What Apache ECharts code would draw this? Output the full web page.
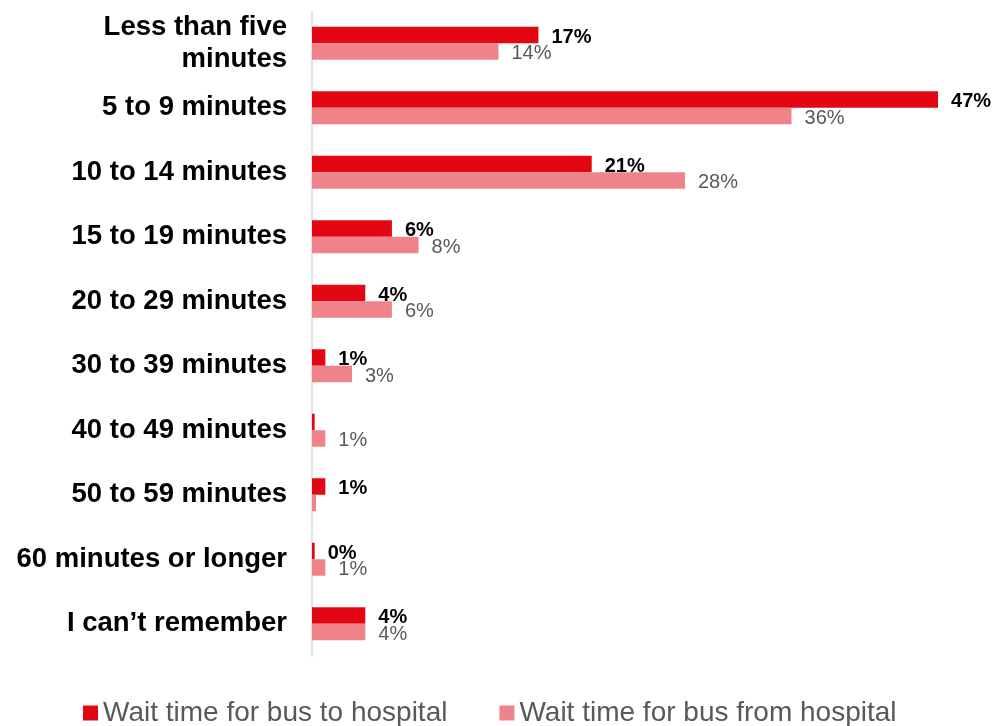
<!DOCTYPE html>
<html>
<head>
<meta charset="utf-8">
<script src="https://cdn.jsdelivr.net/npm/echarts@6/dist/echarts.min.js"></script>
<style>
  html, body { margin: 0; padding: 0; background: #fff; }
  #chart { width: 993px; height: 726px; }
</style>
</head>
<body>
<div id="chart"></div>
<script>
// Wait-time categories, top to bottom
const categories = [
  'Less than five\nminutes',
  '5 to 9 minutes',
  '10 to 14 minutes',
  '15 to 19 minutes',
  '20 to 29 minutes',
  '30 to 39 minutes',
  '40 to 49 minutes',
  '50 to 59 minutes',
  '60 minutes or longer',
  'I can\u2019t remember'
];
const seriesNames = ['Wait time for bus to hospital', 'Wait time for bus from hospital'];
// Share of respondents (%)
const toHospital   = [17, 47, 21, 6, 4, 1, 0.2, 1, 0.2, 4];
const fromHospital = [14, 36, 28, 8, 6, 3, 1, 0.3, 1, 4];
// Bars too small to carry a printed value
const toHidden   = [6];
const fromHidden = [7];

const chart = echarts.init(document.getElementById('chart'));

function withLabels(values, hidden) {
  return values.map((v, i) => hidden.includes(i)
    ? { value: v, label: { show: false } }
    : { value: v });
}

chart.setOption({
  animation: false,
  textStyle: { fontFamily: 'Liberation Sans, Arial, sans-serif' },
  grid: { left: 312, right: 15, top: 11, bottom: 70, containLabel: false },
  xAxis: {
    type: 'value', min: 0, max: 50,
    show: false
  },
  yAxis: {
    type: 'category',
    data: categories,
    inverse: true,
    axisLine: { show: true, lineStyle: { color: '#d9d9d9', width: 1.5 } },
    axisTick: { show: false },
    axisLabel: {
      color: '#000', fontWeight: 'bold', fontSize: 27.5, margin: 25,
      align: 'right', lineHeight: 32, padding: [5, 0, 0, 0]
    }
  },
  legend: {
    top: 694, left: 78,
    itemWidth: 15, itemHeight: 15, itemGap: 52,
    icon: 'rect',
    textStyle: { color: '#595959', fontSize: 28 },
    data: seriesNames
  },
  series: [
    {
      name: seriesNames[0], type: 'bar',
      data: withLabels(toHospital, toHidden),
      barWidth: 16.5, barGap: '0%',
      itemStyle: { color: '#e30613' },
      label: {
        show: true, position: 'right', distance: 13, offset: [0, 2],
        color: '#000', fontWeight: 'bold', fontSize: 20,
        formatter: p => Math.round(p.value) + '%'
      }
    },
    {
      name: seriesNames[1], type: 'bar',
      data: withLabels(fromHospital, fromHidden),
      barWidth: 16.5, barGap: '0%',
      itemStyle: { color: '#f08389' },
      label: {
        show: true, position: 'right', distance: 13, offset: [0, 2],
        color: '#595959', fontSize: 20,
        formatter: p => Math.round(p.value) + '%'
      }
    }
  ]
});
</script>
</body>
</html>
